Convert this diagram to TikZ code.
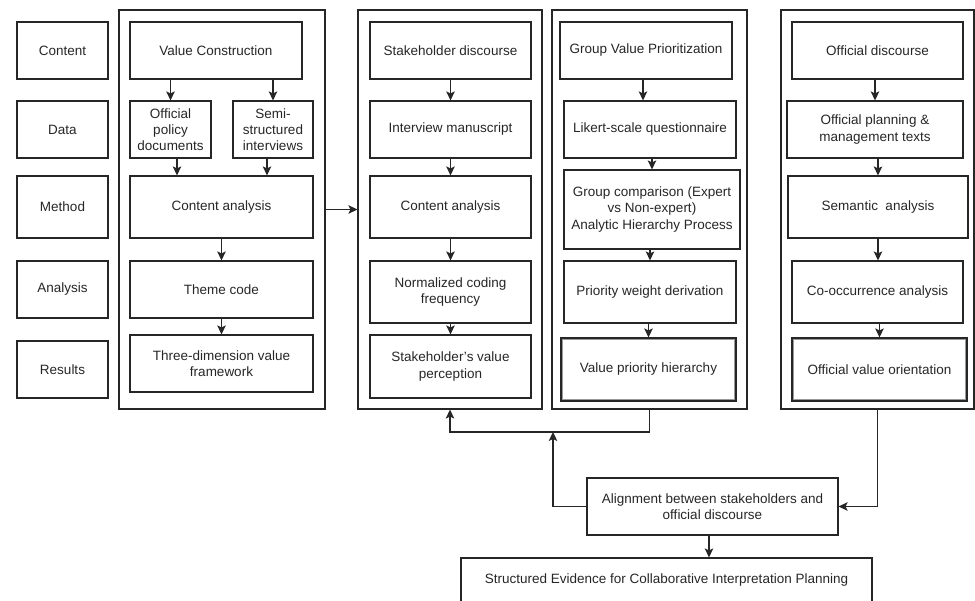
\documentclass[tikz,border=0pt]{standalone}
\usepackage{fontspec}
\setmainfont{Liberation Sans}
\usetikzlibrary{arrows.meta}
\begin{document}
\begin{tikzpicture}[x=1pt,y=-1pt,
  box/.style={draw=black!85, line width=1.1pt, inner sep=2pt, align=center,
    font=\fontsize{13.5}{16.2}\selectfont, text=black!85},
  panel/.style={draw=black!85, line width=1.1pt, inner sep=0pt},
  inner/.style={draw=black!40, line width=0.8pt},
  arr/.style={draw=black!85, line width=1.3pt, -{Stealth[length=9pt,width=8.5pt,inset=2pt]}},
  ln/.style={draw=black!85, line width=1.1pt}]
\useasboundingbox (0,0) rectangle (975,601);
\newcommand\mybox[7][box]{\node[#1,minimum width=#5,minimum height=#6] (#2) at (#3,#4) {#7};}
% left labels
\mybox{Lc}{62.5}{50.5}{91}{57}{Content}
\mybox{Ld}{62.5}{129.5}{91}{57}{Data}
\mybox{Lm}{62.5}{207}{91}{62}{Method}
\mybox{La}{62.5}{289.5}{91}{57}{Analysis}
\mybox{Lr}{62.5}{369.5}{91}{57}{Results}
% panels
\node[panel,minimum width=206,minimum height=399] (P1) at (222,209.5) {};
\node[panel,minimum width=184,minimum height=399] (P2) at (450,209.5) {};
\node[panel,minimum width=195,minimum height=399] (P3) at (649.5,209.5) {};
\node[panel,minimum width=193,minimum height=399] (P4) at (877.5,209.5) {};
% panel 1
\mybox{VC}{216}{50.5}{172}{57}{Value Construction}
\mybox{OPD}{170.5}{129.5}{81}{57}{Official\\policy\\documents}
\mybox{SSI}{273}{129.5}{80}{57}{Semi-\\structured\\interviews}
\mybox{CA1}{221.5}{207}{183}{62}{Content analysis}
\mybox{TC}{221.5}{289.5}{183}{57}{Theme code}
\mybox{TD}{221.5}{363.5}{183}{57}{Three-dimension value\\framework}
% panel 2
\mybox{SD}{450.5}{50.5}{161}{57}{Stakeholder discourse}
\mybox{IM}{450.5}{129.5}{161}{57}{Interview manuscript}
\mybox{CA2}{450.5}{207}{161}{62}{Content analysis}
\mybox{NCF}{450.5}{292}{161}{62}{Normalized coding\\frequency}
\mybox{SVP}{450.5}{366.5}{161}{63}{Stakeholder\symbol{39}s value\\perception}
% panel 3
\mybox{GVP}{646}{50.5}{172}{57}{Group Value Prioritization}
\mybox{LSQ}{650}{129.5}{172}{57}{Likert-scale questionnaire}
\mybox{GC}{652}{209.5}{176}{79}{Group comparison (Expert\\vs Non-expert)\\Analytic Hierarchy Process}
\mybox{PWD}{650}{292}{172}{62}{Priority weight derivation}
\mybox{VPH}{648.5}{369.5}{175}{63}{Value priority hierarchy}
\draw[inner] ([shift={(2,2)}]VPH.north west) rectangle ([shift={(-2,-2)}]VPH.south east);
% panel 4
\mybox{OD}{877.5}{50.5}{171}{57}{Official discourse}
\mybox{OPM}{875}{129.5}{176}{57}{Official planning \&\\management texts}
\mybox{SA}{878}{207}{180}{62}{Semantic\ \ analysis}
\mybox{COA}{877.5}{292}{171}{62}{Co-occurrence analysis}
\mybox{OVO}{879.5}{369.5}{175}{63}{Official value orientation}
\draw[inner] ([shift={(2,2)}]OVO.north west) rectangle ([shift={(-2,-2)}]OVO.south east);
% bottom
\mybox{AL}{712.5}{506.5}{251}{57}{Alignment between stakeholders and\\official discourse}
\mybox{SE}{666.5}{580}{411}{44}{Structured Evidence for Collaborative Interpretation Planning}
% arrows panel 1
\draw[arr] (VC.south -| OPD) -- (OPD);
\draw[arr] (VC.south -| SSI) -- (SSI);
\draw[arr] ([xshift=6.5pt]OPD.south) -- ([xshift=6.5pt]OPD.south |- CA1.north);
\draw[arr] ([xshift=-6pt]SSI.south) -- ([xshift=-6pt]SSI.south |- CA1.north);
\draw[arr] (CA1) -- (TC);
\draw[arr] (TC) -- (TD);
\draw[arr] (P1.east) -- (P2.west);
% panel 2
\draw[arr] (SD) -- (IM);
\draw[arr] (IM) -- (CA2);
\draw[arr] (CA2) -- (NCF);
\draw[arr] (NCF) -- (SVP);
% panel 3
\draw[arr] ([xshift=-3pt]GVP.south) -- ([xshift=-3pt]GVP.south |- LSQ.north);
\draw[arr] ([xshift=2pt]LSQ.south) -- ([xshift=2pt]LSQ.south |- GC.north);
\draw[arr] (GC.south -| PWD) -- (PWD);
\draw[arr] (PWD.south -| VPH) -- (VPH);
% panel 4
\draw[arr] (OD.south -| OPM) -- (OPM);
\draw[arr] (OPM.south -| SA) -- (SA);
\draw[arr] (SA) -- (COA.north -| SA);
\draw[arr] (COA.south -| OVO) -- (OVO);
% bottom connectors
\coordinate (J) at (553,432);
\draw[arr] (P3.south) |- (J) -| (P2.south);
\draw[arr] (AL.west) -| (J);
\draw[arr] (P4.south) |- (AL.east);
\draw[arr] ([xshift=-3.5pt]AL.south) -- ([xshift=-3.5pt]AL.south |- SE.north);
\end{tikzpicture}
\end{document}
